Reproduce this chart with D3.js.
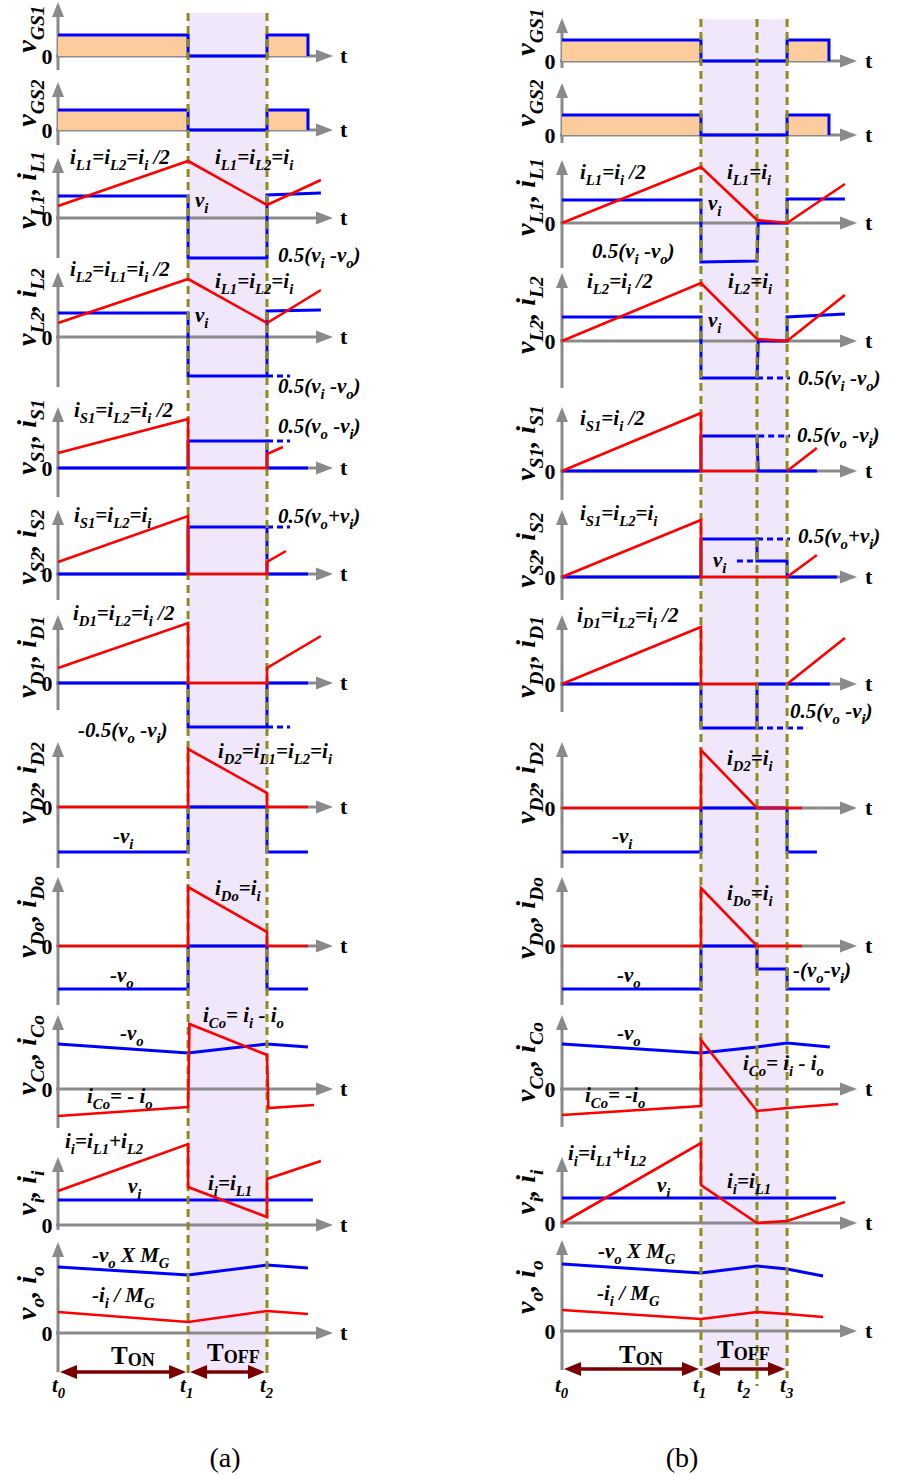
<!DOCTYPE html>
<html>
<head>
<meta charset="utf-8">
<title>Waveforms</title>
<script src="https://d3js.org/d3.v7.min.js"></script>
<style>
  body { margin: 0; background: #fff; }
  text { font-family: "Liberation Serif", "Times New Roman", serif; white-space: pre; }
</style>
</head>
<body>
<div id="chart"></div>
<script>
"use strict"

// ---- data (time in axis units 0..10, values in level units) ----
const titles = ["v_{GS1}", "v_{GS2}", "v_{L1}, i_{L1}", "v_{L2}, i_{L2}", "v_{S1}, i_{S1}", "v_{S2}, i_{S2}",
                "v_{D1}, i_{D1}", "v_{D2}, i_{D2}", "v_{Do}, i_{Do}", "v_{Co}, i_{Co}", "v_{i}, i_{i}", "v_{o}, i_{o}"];

const timesA = [0, 4.73, 7.6];
const timesB = [0, 4.71, 6.61, 7.63];
const timeLabelsA = ["t_{0}", "t_{1}", "t_{2}"];
const timeLabelsB = ["t_{0}", "t_{1}", "t_{2}", "t_{3}"];

// blue traces (voltages), column (a)
const vA = [
  [[[0,2.1],[4.73,2.1],[4.73,0],[7.6,0],[7.6,2.1],[9.09,2.1],[9.09,0]]],
  [[[0,2.0],[4.73,2.0],[4.73,0],[7.6,0],[7.6,2.0],[9.09,2.0],[9.09,0]]],
  [[[0,2.2],[4.73,2.2],[4.73,-4.0],[7.6,-4.0],[7.6,2.3],[9.56,2.5]]],
  [[[0,2.4],[4.73,2.4],[4.73,-3.9],[7.6,-3.9],[7.6,2.6],[9.56,2.7]]],
  [[[0,0],[4.73,0],[4.73,2.7],[7.6,2.7],[7.6,0],[9.09,0]]],
  [[[0,0],[4.73,0],[4.73,4.7],[7.6,4.7],[7.6,0],[9.09,0]]],
  [[[0,0],[4.73,0],[4.73,-4.4],[7.6,-4.4],[7.6,0],[9.09,0]]],
  [[[0,-4.5],[4.73,-4.5],[4.73,0],[7.6,0],[7.6,-4.5],[9.09,-4.5]]],
  [[[0,-4.3],[4.73,-4.3],[4.73,0],[7.6,0],[7.6,-4.3],[9.09,-4.3]]],
  [[[0,4.5],[4.73,3.6],[7.6,4.5],[9.09,4.2]]],
  [[[0,2.5],[9.27,2.5]]],
  [[[0,6.6],[4.73,5.8],[7.6,6.8],[9.09,6.5]]]
];
// red traces (currents), column (a)
const iA = [
  [], [],
  [[[0,1.2],[4.73,5.7],[7.6,1.3],[9.56,3.8]]],
  [[[0,1.4],[4.73,5.8],[7.6,1.4],[9.56,4.7]]],
  [[[0,1.5],[4.73,4.9],[4.73,0],[7.6,0],[7.6,1.4],[8.18,2.1]]],
  [[[0,1.2],[4.73,5.8],[4.73,0],[7.6,0],[7.6,1.2],[8.29,2.3]]],
  [[[0,1.5],[4.73,6.0],[4.73,0],[7.6,0],[7.6,1.5],[9.56,4.7]]],
  [[[0,0],[4.73,0],[4.73,5.8],[7.6,1.4],[7.6,0],[9.09,0]]],
  [[[0,0],[4.73,0],[4.73,5.9],[7.6,1.4],[7.6,0],[9.09,0]]],
  [[[0,-2.7],[4.73,-1.8],[4.78,6.5],[7.6,3.4],[7.65,-1.9],[9.31,-1.6]]],
  [[[0,3.4],[4.73,8.1],[4.73,3.8],[7.6,0.8],[7.6,4.6],[9.56,6.4]]],
  [[[0,2.1],[4.73,1.1],[7.6,2.2],[9.09,1.9]]]
];
// dashed blue continuations, column (a)
const vDashA = [
  [], [], [],
  [[[7.6,-3.9],[8.44,-3.9]]],
  [[[7.6,2.7],[8.44,2.7]]],
  [[[7.6,4.7],[8.44,4.7]]],
  [[[7.6,-4.4],[8.44,-4.4]]],
  [], [], [], [], []
];

// column (b)
const vB = [
  [[[0,2.1],[4.71,2.1],[4.71,0],[7.63,0],[7.63,2.1],[9.05,2.1],[9.05,0]]],
  [[[0,2.0],[4.71,2.0],[4.71,0],[7.63,0],[7.63,2.0],[9.05,2.0],[9.05,0]]],
  [[[0,2.3],[4.71,2.3],[4.71,-3.9],[6.61,-3.8],[6.65,0],[7.63,0],[7.63,2.4],[9.59,2.4]]],
  [[[0,2.4],[4.71,2.4],[4.71,-3.7],[6.61,-3.7],[6.65,0],[7.63,0],[7.63,2.4],[9.59,2.7]]],
  [[[0,0],[4.71,0],[4.71,3.5],[6.61,3.5],[6.65,0],[8.64,0]]],
  [[[0,0],[4.71,0],[4.71,3.8],[6.61,3.8],[6.61,1.6],[7.63,1.6],[7.63,0],[9.32,0]]],
  [[[0,0],[4.71,0],[4.71,-4.4],[6.61,-4.4],[6.61,0],[9.08,0]]],
  [[[0,-4.4],[4.71,-4.4],[4.71,0],[7.63,0],[7.63,-4.4],[8.64,-4.4]]],
  [[[0,-4.3],[4.71,-4.3],[4.71,0],[6.61,0],[6.61,-2.3],[7.63,-2.3],[7.63,-4.3],[9.08,-4.3]]],
  [[[0,4.5],[4.71,3.6],[6.61,4.2],[7.63,4.6],[9.08,4.2]]],
  [[[0,2.5],[9.29,2.5]]],
  [[[0,6.7],[4.71,5.8],[6.61,6.5],[7.63,6.2],[8.85,5.5]]]
];
const iB = [
  [], [],
  [[[0,0],[4.71,5.6],[6.61,0.3],[7.63,0],[9.59,3.9]]],
  [[[0,0],[4.71,5.8],[6.61,0.2],[7.63,0],[9.59,4.6]]],
  [[[0,0],[4.71,5.8],[4.71,0],[6.61,0]], [[7.63,0],[8.64,2.3]]],
  [[[0,0],[4.71,5.7],[4.71,0],[7.63,0],[8.64,2.2]]],
  [[[0,0],[4.71,5.7],[4.71,0],[6.61,0]], [[7.63,0],[9.59,4.6]]],
  [[[0,0],[4.71,0],[4.71,5.8],[6.61,0],[8.14,0]]],
  [[[0,0],[4.71,0],[4.71,5.8],[6.61,0],[8.14,0]]],
  [[[0,-2.6],[4.71,-1.7],[4.71,4.9],[6.61,-2.2],[7.63,-1.9],[9.36,-1.5]]],
  [[[0,0],[4.71,8.0],[4.71,3.8],[6.61,0],[7.63,0.2],[9.59,2.1]]],
  [[[0,2.1],[4.71,1.2],[6.61,1.9],[7.63,1.7],[8.85,1.4]]]
];
const vDashB = [
  [], [], [],
  [[[6.61,-3.7],[7.73,-3.7]]],
  [[[6.65,3.5],[7.73,3.5]]],
  [[[6.61,3.8],[7.73,3.8]], [[5.93,1.6],[6.61,1.6]]],
  [[[6.61,-4.4],[8.31,-4.4]]],
  [], [], [], [], []
];

// annotation texts
const notesA = [
  "i_{L1}=i_{L2}=i_{i} /2", "i_{L1}=i_{L2}=i_{i}", "v_{i}", "0.5(v_{i} -v_{o})",
  "i_{L2}=i_{L1}=i_{i} /2", "i_{L1}=i_{L2}=i_{i}", "v_{i}", "0.5(v_{i} -v_{o})",
  "i_{S1}=i_{L2}=i_{i} /2", "0.5(v_{o} -v_{i})",
  "i_{S1}=i_{L2}=i_{i}", "0.5(v_{o}+v_{i})",
  "i_{D1}=i_{L2}=i_{i} /2", "-0.5(v_{o} -v_{i})",
  "i_{D2}=i_{L1}=i_{L2}=i_{i}", "-v_{i}",
  "i_{Do}=i_{i}", "-v_{o}",
  "i_{Co}= i_{i} - i_{o}", "-v_{o}", "i_{Co}= - i_{o}",
  "i_{i}=i_{L1}+i_{L2}", "v_{i}", "i_{i}=i_{L1}",
  "-v_{o} X M_{G}", "-i_{i} / M_{G}"
];
const notesB = [
  "i_{L1}=i_{i} /2", "i_{L1}=i_{i}", "v_{i}", "0.5(v_{i} -v_{o})",
  "i_{L2}=i_{i} /2", "i_{L2}=i_{i}", "v_{i}", "0.5(v_{i} -v_{o})",
  "i_{S1}=i_{i} /2", "0.5(v_{o} -v_{i})",
  "i_{S1}=i_{L2}=i_{i}", "0.5(v_{o}+v_{i})", "v_{i}",
  "i_{D1}=i_{L2}=i_{i} /2", "0.5(v_{o} -v_{i})",
  "i_{D2}=i_{i}", "-v_{i}",
  "i_{Do}=i_{i}", "-v_{o}", "-(v_{o}-v_{i})",
  "-v_{o}", "i_{Co}= i_{i} - i_{o}", "i_{Co}= -i_{o}",
  "i_{i}=i_{L1}+i_{L2}", "v_{i}", "i_{i}=i_{L1}",
  "-v_{o} X M_{G}", "-i_{i} / M_{G}"
];

// ---- layout ----
const notePosA = [[70,164],[215,164],[195,207],[278,262],[70,276],[215,288],[195,322],[278,393],
  [74,417],[278,433],[74,522],[278,523],[73,620],[78,737],[218,758],[113,843],[215,895],[110,982],
  [203,1022],[120,1040],[87,1103],[65,1148],[128,1193],[208,1190],[92,1262],[92,1302]];
const notePosB = [[580,179],[727,179],[708,210],[592,258],[587,288],[728,288],[708,327],[798,385],
  [580,425],[797,442],[580,520],[798,543],[713,567],[577,622],[790,718],[727,765],[612,843],
  [727,900],[617,982],[793,977],[617,1040],[743,1070],[585,1102],[568,1160],[657,1192],[727,1188],
  [598,1258],[597,1300]];

const colA = {
  x0: 58, xEnd: 333, titleX: 36, zeroLabelX: 47, tLabelX: 340,
  zero: [56,130,218,337,468,574,683,807,946,1089,1225,1333],
  axTop: [2,82,158,272,407,510,615,742,877,1015,1157,1242],
  axBot: [70,145,258,387,497,600,710,868,1005,1128,1230,1372],
  titleY: [29,103,190,307,437,547,657,783,917,1055,1193,1293],
  shadeTop: 13, arrowY: 1372, caption: "(a)", captionX: 225,
  times: timesA, timeLabels: timeLabelsA, v: vA, i: iA, vDash: vDashA,
  notes: notesA, notePos: notePosA,
  onX: 111, offX: 207, onY: 1364, offY: 1361, tLabelDx: [-6, -8, -7]
};
const colB = {
  x0: 562, xEnd: 857, titleX: 535, zeroLabelX: 550, tLabelX: 865,
  zero: [61,135,223,341,471,577,684,808,946,1089,1223,1331],
  axTop: [18,83,160,273,407,510,615,742,877,1015,1157,1240],
  axBot: [68,143,268,388,500,600,712,868,1005,1127,1228,1370],
  titleY: [32,103,197,315,443,550,657,783,918,1062,1192,1287],
  shadeTop: 19, arrowY: 1369, caption: "(b)", captionX: 682,
  times: timesB, timeLabels: timeLabelsB, v: vB, i: iB, vDash: vDashB,
  notes: notesB, notePos: notePosB,
  onX: 619, offX: 717, onY: 1363, offY: 1358, tLabelDx: [-7, -8, -20, -7]
};

const UNIT = 10;          // px per level unit
const BLUE = "#0000ff", RED = "#ff0000", GREY = "#8a8a8a";
const SHADE = "#f1e7fb", GATE = "#fccc9c", GUIDE = "#8e8c1e", ARROW = "#7a0000";

const svg = d3.select("#chart").append("svg")
  .attr("width", 903).attr("height", 1475);

// text with _{...} subscripts
function rich(sel, str, size, shiftK = 0.3, subK = 0.7) {
  const parts = str.split(/(_\{[^}]*\})/).filter(s => s.length);
  const shift = size * shiftK;
  let down = false;
  parts.forEach(p => {
    if (p.startsWith("_{")) {
      sel.append("tspan").attr("font-size", size * subK).attr("dy", down ? 0 : shift).text(p.slice(2, -1));
      down = true;
    } else {
      sel.append("tspan").attr("font-size", size).attr("dy", down ? -shift : 0).text(p);
      down = false;
    }
  });
  return sel;
}

function drawColumn(c) {
  const x = d3.scaleLinear().domain([0, 10]).range([c.x0, c.xEnd]);
  const g = svg.append("g");
  const tLast = c.times[c.times.length - 1];
  const bottom = 1370;

  // shaded off interval
  g.append("rect")
    .attr("x", x(c.times[1])).attr("y", c.shadeTop)
    .attr("width", x(tLast) - x(c.times[1])).attr("height", bottom - c.shadeTop)
    .attr("fill", SHADE);

  const lines = [];

  c.zero.forEach((z, k) => {
    const y = d3.scaleLinear().domain([0, 1]).range([z, z - UNIT]);
    const line = d3.line().x(d => x(d[0])).y(d => y(d[1]));
    const p = g.append("g");

    // axes
    p.append("line").attr("x1", c.x0).attr("x2", c.x0)
      .attr("y1", c.axBot[k]).attr("y2", c.axTop[k] + 12)
      .attr("stroke", GREY).attr("stroke-width", 3);
    p.append("path")
      .attr("d", `M${c.x0},${c.axTop[k]}L${c.x0 - 6},${c.axTop[k] + 15}L${c.x0 + 6},${c.axTop[k] + 15}Z`)
      .attr("fill", GREY);
    p.append("line").attr("x1", c.x0 - 2).attr("x2", x(10) - 12)
      .attr("y1", y(0)).attr("y2", y(0))
      .attr("stroke", GREY).attr("stroke-width", 3);
    p.append("path")
      .attr("d", `M${x(10)},${y(0)}L${x(10) - 17},${y(0) - 6.5}L${x(10) - 17},${y(0) + 6.5}Z`)
      .attr("fill", GREY);

    p.append("text").attr("x", c.zeroLabelX).attr("y", z + 8)
      .attr("text-anchor", "middle").attr("font-size", 22).attr("font-weight", "bold").text("0");
    p.append("text").attr("x", c.tLabelX).attr("y", z + 7)
      .attr("font-size", 22).attr("font-weight", "bold").text("t");

    rich(p.append("text")
      .attr("transform", `translate(${c.titleX},${c.titleY[k]}) rotate(-90)`)
      .attr("text-anchor", "middle").attr("font-weight", "bold").attr("font-style", "italic"),
      titles[k], 28);

    // gate drive fill
    if (k < 2) {
      const area = d3.area().x(d => x(d[0])).y0(y(0)).y1(d => y(d[1]));
      p.append("path").attr("d", area(c.v[k][0])).attr("fill", GATE);
    }

    c.v[k].forEach(pts => p.append("path").attr("d", line(pts))
      .attr("fill", "none").attr("stroke", BLUE).attr("stroke-width", 3));
    c.vDash[k].forEach(pts => p.append("path").attr("d", line(pts))
      .attr("fill", "none").attr("stroke", BLUE).attr("stroke-width", 3).attr("stroke-dasharray", "6,4"));

    lines[k] = line;
  });

  // vertical guides at switching instants
  c.times.slice(1).forEach((t, j) => {
    g.append("line").attr("x1", x(t)).attr("x2", x(t))
      .attr("y1", c.shadeTop).attr("y2", (c.times.length === 4 && j === 1) ? 1386 : 1378)
      .attr("stroke", GUIDE).attr("stroke-width", 3).attr("stroke-dasharray", "8,5");
  });

  // currents on top
  c.zero.forEach((z, k) => {
    c.i[k].forEach(pts => g.append("path").attr("d", lines[k](pts))
      .attr("fill", "none").attr("stroke", RED).attr("stroke-width", 2.6));
  });

  // annotations
  c.notes.forEach((s, n) => {
    rich(g.append("text").attr("x", c.notePos[n][0]).attr("y", c.notePos[n][1])
      .attr("font-weight", "bold").attr("font-style", "italic"), s, 21);
  });

  // interval arrows
  const ay = c.arrowY;
  const spans = [[c.times[0], c.times[1]], [c.times[1], tLast]];
  spans.forEach(([a, b]) => {
    const xa = x(a) + 2, xb = x(b) - 2;
    g.append("line").attr("x1", xa + 10).attr("x2", xb - 10).attr("y1", ay).attr("y2", ay)
      .attr("stroke", ARROW).attr("stroke-width", 3.5);
    g.append("path").attr("d", `M${xa},${ay}L${xa + 17},${ay - 7}L${xa + 17},${ay + 7}Z`).attr("fill", ARROW);
    g.append("path").attr("d", `M${xb},${ay}L${xb - 17},${ay - 7}L${xb - 17},${ay + 7}Z`).attr("fill", ARROW);
  });

  rich(g.append("text").attr("x", c.onX).attr("y", c.onY).attr("font-weight", "bold"), "T_{ON}", 25, 0.08, 0.72);
  rich(g.append("text").attr("x", c.offX).attr("y", c.offY).attr("font-weight", "bold"), "T_{OFF}", 25, 0.08, 0.72);

  c.times.forEach((t, j) => {
    rich(g.append("text").attr("x", x(t) + c.tLabelDx[j]).attr("y", 1392)
      .attr("font-weight", "bold").attr("font-style", "italic"), c.timeLabels[j], 21);
  });

  g.append("text").attr("x", c.captionX).attr("y", 1467).attr("text-anchor", "middle")
    .attr("font-size", 28).text(c.caption);
}

drawColumn(colA);
drawColumn(colB);
</script>
</body>
</html>
